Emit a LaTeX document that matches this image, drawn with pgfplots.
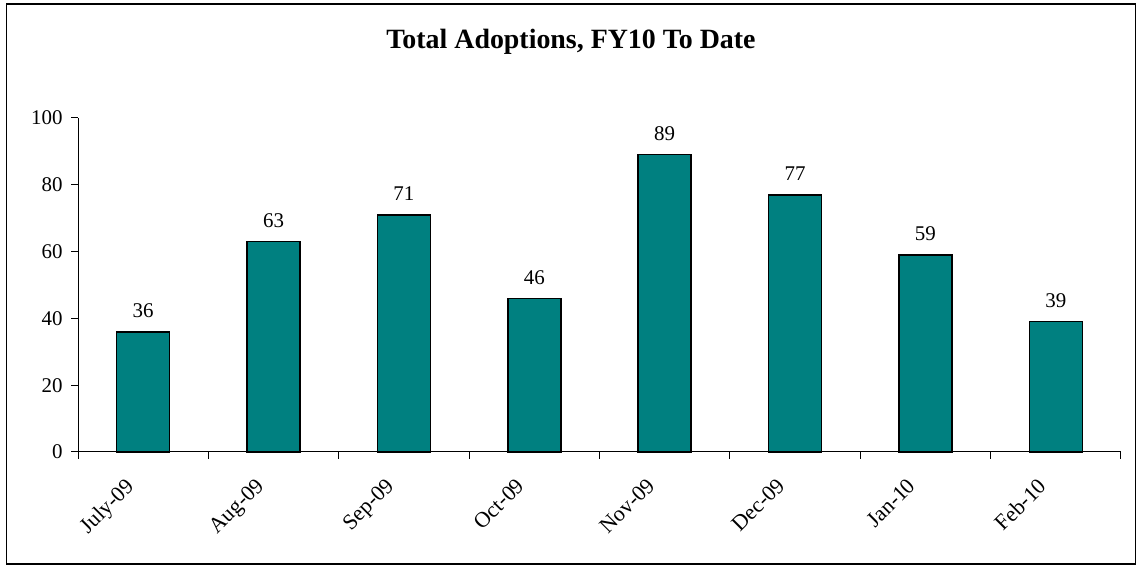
\documentclass[border=0pt]{standalone}
\usepackage{fontspec}
\setmainfont{Liberation Serif}
\usepackage{pgfplots}
\pgfplotsset{compat=1.18}
\definecolor{barteal}{RGB}{0,128,128}
\begin{document}
\begin{tikzpicture}[x=1bp,y=1bp]
\useasboundingbox (0,0) rectangle (1139,565);
\draw[line width=1.3bp] (6.5,1) rectangle (1135.5,561);
\node[font=\fontsize{28}{33}\selectfont\bfseries, anchor=base, inner sep=0pt] at (571,516) {Total Adoptions, FY10 To Date};
\begin{axis}[
  at={(78bp,113bp)}, anchor=south west,
  width=1043bp, height=334bp, scale only axis,
  xmin=-0.5, xmax=7.5, ymin=0, ymax=100,
  axis x line*=bottom, axis y line*=left,
  axis line style={-, line width=1bp},
  every tick/.style={black, line width=1bp},
  tick align=outside, major tick length=7bp,
  xtick={-0.5,0.5,...,7.5},
  x tick label as interval,
  xticklabels={July-09,Aug-09,Sep-09,Oct-09,Nov-09,Dec-09,Jan-10,Feb-10},
  xticklabel style={xshift=-19bp, yshift=-13bp, rotate=45, anchor=north east, font=\fontsize{22}{25}\selectfont},
  ytick={0,20,...,100},
  yticklabel style={xshift=-5bp, font=\fontsize{21}{24}\selectfont},
  /pgf/number format/assume math mode=true,
  ybar, bar width=53bp,
  nodes near coords,
  every node near coord/.append style={font=\fontsize{21}{24}\selectfont, yshift=10bp},
  clip=false,
]
\addplot[fill=barteal, draw=black, line width=1.5bp] coordinates {
  (0,36) (1,63) (2,71) (3,46) (4,89) (5,77) (6,59) (7,39)
};
\end{axis}
\end{tikzpicture}
\end{document}
